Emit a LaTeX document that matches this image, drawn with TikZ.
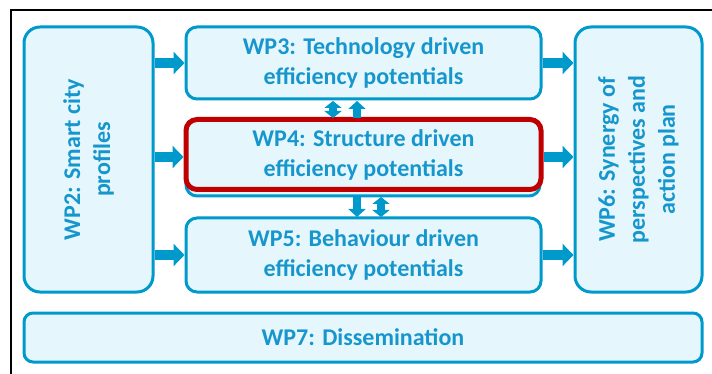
\documentclass[tikz,border=0pt]{standalone}
\usepackage{fontspec}
\setmainfont{Carlito}
\usetikzlibrary{arrows.meta}
\definecolor{wpblue}{RGB}{0,153,204}
\definecolor{wpfill}{RGB}{229,247,253}
\definecolor{wptext}{RGB}{22,150,205}
\definecolor{wpred}{RGB}{192,0,0}
\tikzset{
  wpfont/.style={font=\bfseries\fontsize{24}{30}\selectfont},
  wpbox/.style={draw=wpblue, line width=3pt, fill=wpfill, rounded corners=11pt,
    text=wptext, wpfont, align=center, inner sep=0pt},
  bigarrow/.style={wpblue, line width=10pt, -{Triangle[length=11pt,width=22pt]}},
  uparr/.style={wpblue, line width=8pt, -{Triangle[length=8pt,width=17pt]}},
  dblarr/.style={wpblue, line width=8pt, {Triangle[length=7pt,width=17pt]}-{Triangle[length=7pt,width=17pt]}}
}
\begin{document}
\begin{tikzpicture}[x=1pt,y=-1pt]
\useasboundingbox (0,0) rectangle (712,374);
\fill[white] (0,0) rectangle (712,374);
\draw[black, line width=2.5pt] (720,10) -- (11,10) -- (11,380);
% boxes
\node[wpbox, rounded corners=16pt, minimum width=129pt, minimum height=265pt] (wp2) at (88.5,159.5) {};
\node[text=wptext, wpfont, align=center, rotate=90] (wp2t) at (wp2.center) {WP2: Smart city\\profiles};
\node[wpbox, minimum width=355pt, minimum height=72pt] (wp3) at (363.5,63) {WP3: Technology driven\\efficiency potentials};
\node[wpbox, minimum width=354pt, minimum height=72pt] (wp4b) at (363,160) {};
\node[wpbox, draw=wpred, line width=5pt, minimum width=355pt, minimum height=70pt] (wp4) at (363.5,154.5) {WP4: Structure driven\\efficiency potentials};
\node[wpbox, minimum width=355pt, minimum height=74pt] (wp5) at (363.5,255) {WP5: Behaviour driven\\efficiency potentials};
\node[wpbox, rounded corners=16pt, minimum width=127pt, minimum height=265pt] (wp6) at (638.5,159.5) {};
\node[text=wptext, wpfont, align=center, rotate=90] (wp6t) at (wp6.center) {WP6: Synergy of\\perspectives and\\action plan};
\node[wpbox, rounded corners=9pt, minimum width=678pt, minimum height=49pt] (wp7) at (363,337.5) {WP7: Dissemination};
% horizontal arrows
\draw[bigarrow] (wp2.east |- wp3.west) -- (wp3.west);
\draw[bigarrow] (wp2.east |- 0,157) -- (wp4.west |- 0,157);
\draw[bigarrow] (wp2.east |- 0,255) -- (wp5.west |- 0,255);
\draw[bigarrow] (wp3.east) -- (wp6.west |- wp3.east);
\draw[bigarrow] (wp4.east |- 0,157) -- (wp6.west |- 0,157);
\draw[bigarrow] (wp5.east) -- (wp6.west |- wp5.east);
% vertical arrows
\draw[dblarr] (333,101) -- (333,118);
\draw[uparr] (357,118) -- (357,101);
\draw[uparr] (357,197) -- (357,217);
\draw[dblarr] (381,197) -- (381,217);
\end{tikzpicture}
\end{document}
